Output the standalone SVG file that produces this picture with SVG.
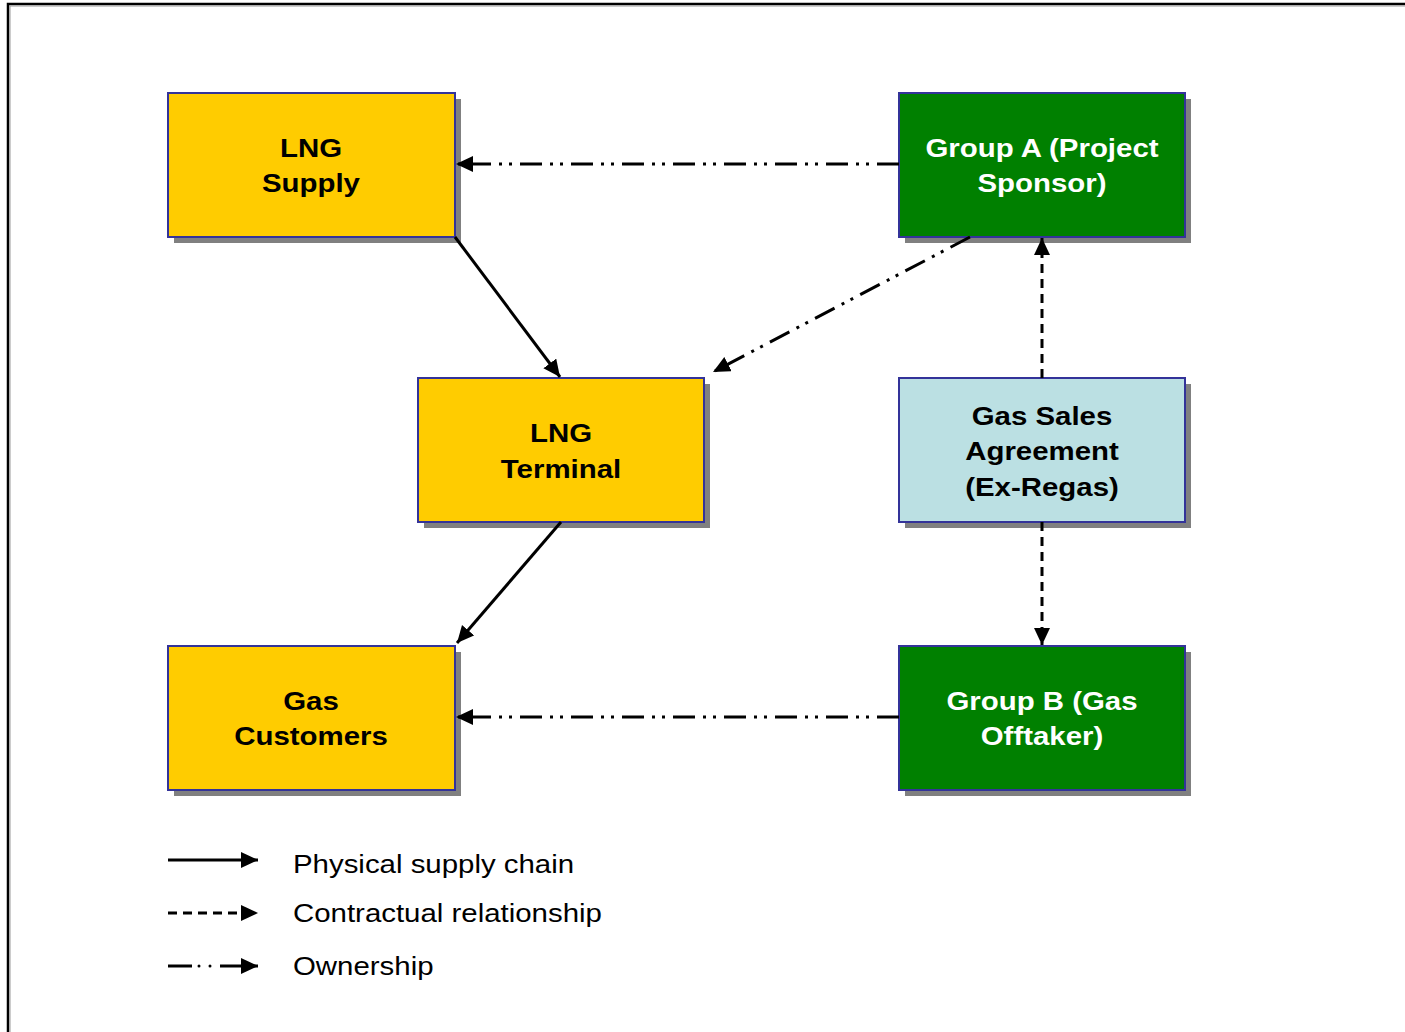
<svg xmlns="http://www.w3.org/2000/svg" width="1405" height="1032" viewBox="0 0 1405 1032">
  <style>
    .box { stroke: #333399; stroke-width: 2; }
    .shadow { fill: #808080; }
    .yellow { fill: #FFCC00; }
    .green { fill: #008000; }
    .blue { fill: #BBE0E3; }
    .lbl { font-family: "Liberation Sans", Arial, sans-serif; font-weight: bold; font-size: 26.5px; text-anchor: middle;
           transform-box: fill-box; transform-origin: center; transform: scaleX(1.11); }
    .dark { fill: #000000; }
    .light { fill: #FFFFFF; }
    .leg { font-family: "Liberation Sans", Arial, sans-serif; font-size: 26.5px; fill: #000000;
           transform-box: fill-box; transform-origin: left; transform: scaleX(1.11); }
    .conn { fill: none; stroke: #000000; stroke-width: 3; }
    .dashed { stroke-dasharray: 9 6; }
    .owner { stroke-dasharray: 22 8 3 7 3 8; }
  </style>
  <defs>
    <marker id="arrow" markerUnits="userSpaceOnUse" markerWidth="20" markerHeight="18" refX="17" refY="8" orient="auto">
      <path d="M0,0 L17,8 L0,16 Z" fill="#000000"/>
    </marker>
  </defs>

  <!-- page frame -->
  <rect x="0" y="0" width="1405" height="1032" fill="#FFFFFF"/>
  <path d="M8,1040 L8,4 L1410,4" fill="none" stroke="#000000" stroke-width="2.5"/>
  <path d="M10,1040 L10,6 L1410,6" fill="none" stroke="#999999" stroke-width="1"/>

  <!-- nodes -->
  <g id="lng-supply">
    <rect class="shadow" x="174" y="99" width="287" height="144"/>
    <rect class="box yellow" x="168" y="93" width="287" height="144"/>
    <text class="lbl dark" x="311" y="157">LNG</text>
    <text class="lbl dark" x="311" y="192">Supply</text>
  </g>

  <g id="group-a">
    <rect class="shadow" x="905" y="99" width="286" height="144"/>
    <rect class="box green" x="899" y="93" width="286" height="144"/>
    <text class="lbl light" x="1042" y="157">Group A (Project</text>
    <text class="lbl light" x="1042" y="192">Sponsor)</text>
  </g>

  <g id="lng-terminal">
    <rect class="shadow" x="424" y="384" width="286" height="144"/>
    <rect class="box yellow" x="418" y="378" width="286" height="144"/>
    <text class="lbl dark" x="561" y="442">LNG</text>
    <text class="lbl dark" x="561" y="478">Terminal</text>
  </g>

  <g id="gas-sales-agreement">
    <rect class="shadow" x="905" y="384" width="286" height="144"/>
    <rect class="box blue" x="899" y="378" width="286" height="144"/>
    <text class="lbl dark" x="1042" y="425">Gas Sales</text>
    <text class="lbl dark" x="1042" y="460">Agreement</text>
    <text class="lbl dark" x="1042" y="496">(Ex-Regas)</text>
  </g>

  <g id="gas-customers">
    <rect class="shadow" x="174" y="652" width="287" height="144"/>
    <rect class="box yellow" x="168" y="646" width="287" height="144"/>
    <text class="lbl dark" x="311" y="710">Gas</text>
    <text class="lbl dark" x="311" y="745">Customers</text>
  </g>

  <g id="group-b">
    <rect class="shadow" x="905" y="652" width="286" height="144"/>
    <rect class="box green" x="899" y="646" width="286" height="144"/>
    <text class="lbl light" x="1042" y="710">Group B (Gas</text>
    <text class="lbl light" x="1042" y="745">Offtaker)</text>
  </g>

  <!-- connectors, drawn over the box shadows -->
  <g id="connectors">
    <line class="conn owner" x1="899" y1="164" x2="456" y2="164" marker-end="url(#arrow)"/>
    <line class="conn" x1="455" y1="237" x2="560" y2="377" marker-end="url(#arrow)"/>
    <line class="conn owner" x1="970" y1="237" x2="713" y2="372" marker-end="url(#arrow)"/>
    <line class="conn dashed" x1="1042" y1="378" x2="1042" y2="238" marker-end="url(#arrow)"/>
    <line class="conn" x1="561" y1="522" x2="457" y2="643" marker-end="url(#arrow)"/>
    <line class="conn dashed" x1="1042" y1="522" x2="1042" y2="645" marker-end="url(#arrow)"/>
    <line class="conn owner" x1="899" y1="717" x2="456" y2="717" marker-end="url(#arrow)"/>
  </g>

  <!-- legend -->
  <g id="legend">
    <line class="conn" x1="168" y1="860" x2="258" y2="860" marker-end="url(#arrow)"/>
    <line class="conn dashed" x1="168" y1="913" x2="258" y2="913" marker-end="url(#arrow)"/>
    <line class="conn" x1="168" y1="966" x2="192" y2="966"/>
    <circle cx="199" cy="966" r="1.5" fill="#000000"/>
    <circle cx="210" cy="966" r="1.5" fill="#000000"/>
    <line class="conn" x1="220" y1="966" x2="258" y2="966" marker-end="url(#arrow)"/>
    <text class="leg" x="293" y="873">Physical supply chain</text>
    <text class="leg" x="293" y="922">Contractual relationship</text>
    <text class="leg" x="293" y="975">Ownership</text>
  </g>
</svg>
